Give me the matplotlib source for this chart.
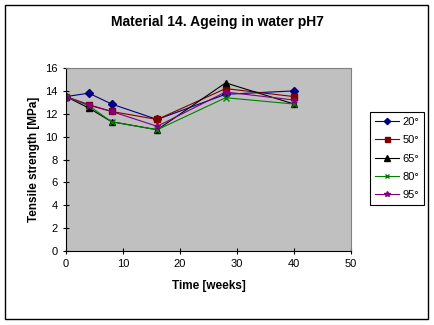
import matplotlib
matplotlib.use('Agg')
import matplotlib.pyplot as plt
from matplotlib.patches import Rectangle

plt.rcParams['font.family'] = ['Liberation Sans', 'DejaVu Sans']

weeks = [0, 4, 8, 16, 28, 40]
s20 = [13.5, 13.8, 12.85, 11.5, 13.7, 14.0]
s50 = [13.5, 12.75, 12.2, 11.5, 14.2, 13.5]
s65 = [13.5, 12.5, 11.3, 10.6, 14.7, 12.85]
s80 = [13.5, 12.7, 11.3, 10.6, 13.4, 12.85]
s95 = [13.5, 12.8, 12.2, 10.9, 13.9, 13.2]
labels = ['20°', '50°', '65°', '80°', '95°']

fig = plt.figure(figsize=(4.34, 3.25), dpi=100)
# outer chart frame
fig.patches.append(Rectangle((5/434, 1-319/325), 423/434, 314/325,
                             transform=fig.transFigure, fill=False,
                             edgecolor='black', linewidth=1))

ax = fig.add_axes([66/434, 1-251/325, 285/434, 183/325])
ax.set_facecolor('#c0c0c0')

styles = [
    dict(color='#000080', marker='D', ms=4),
    dict(color='#800000', marker='s', ms=4.5),
    dict(color='black', marker='^', ms=5),
    dict(color='#008000', marker='x', ms=4),
    dict(color='#800080', marker='*', ms=5),
]
for ys, lab, st in zip([s20, s50, s65, s80, s95], labels, styles):
    ax.plot(weeks, ys, color=st['color'], marker=st['marker'],
            markersize=st['ms'], linewidth=0.8, label=lab,
            markerfacecolor=st['color'], markeredgecolor=st['color'])

ax.set_xlim(0, 50)
ax.set_ylim(0, 16)
ax.set_xticks(range(0, 51, 10))
ax.set_yticks(range(0, 17, 2))
ax.tick_params(direction='inout', length=5, width=0.8, labelsize=8)
for side in ['top', 'right']:
    ax.spines[side].set_color('#808080')
for side in ['left', 'bottom']:
    ax.spines[side].set_color('black')

fig.text(0.5, 1-22/325, 'Material 14. Ageing in water pH7',
         ha='center', va='center', fontsize=10, fontweight='bold')
ax.set_xlabel('Time [weeks]', fontsize=8.5, fontweight='bold', labelpad=8)
ax.set_ylabel('Tensile strength [MPa]', fontsize=8.5, fontweight='bold', labelpad=4)

leg = ax.legend(loc='upper left', bbox_to_anchor=(370/434, 1-112/325),
                bbox_transform=fig.transFigure, fontsize=8,
                fancybox=False, framealpha=1, edgecolor='black',
                handlelength=2.2, labelspacing=0.75, borderpad=0.45,
                handletextpad=0.25, borderaxespad=0, markerscale=0.8)
leg.get_frame().set_linewidth(0.8)

fig.savefig('out.png', dpi=100)
